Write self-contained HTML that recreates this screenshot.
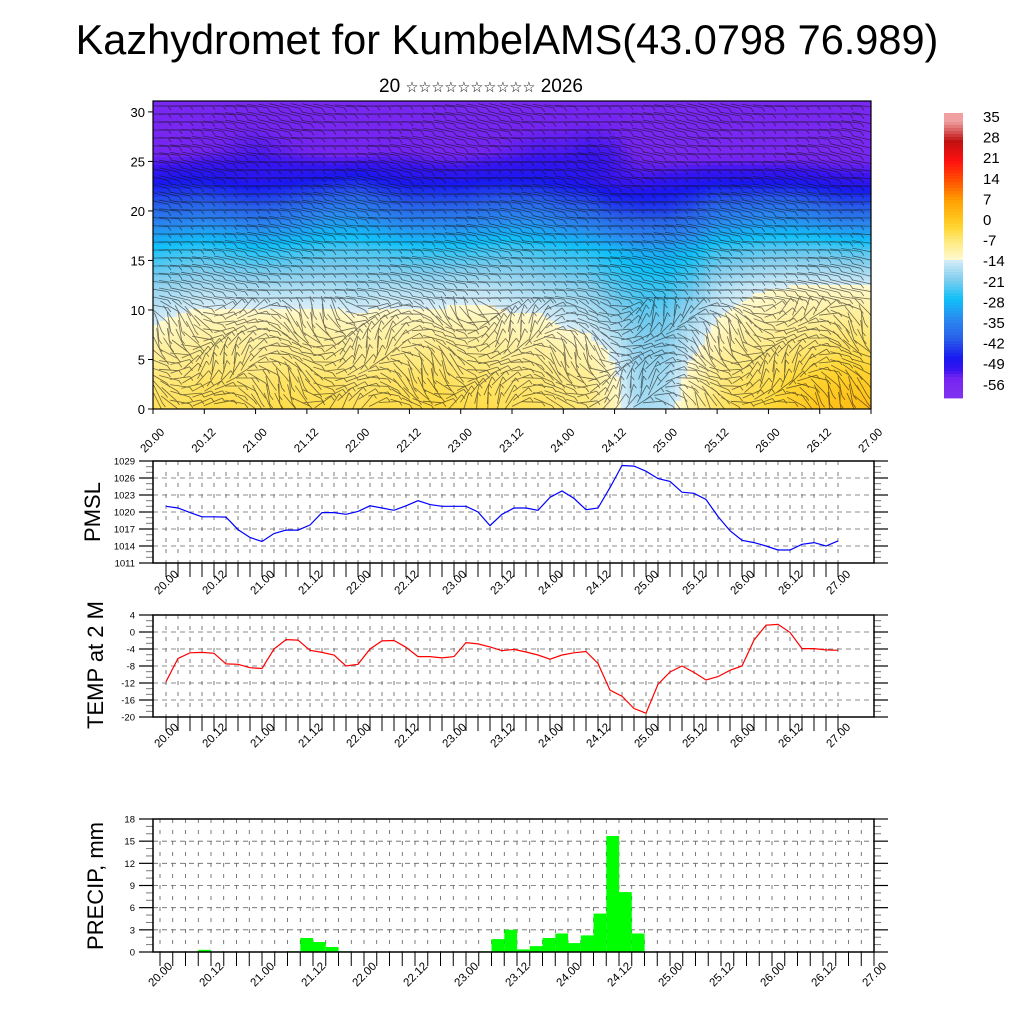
<!DOCTYPE html>
<html><head><meta charset="utf-8"><style>
html,body{margin:0;padding:0;background:#fff;}
svg{display:block;font-family:"Liberation Sans",sans-serif;}
</style></head><body>
<svg id="chart" width="1024" height="1024" viewBox="0 0 1024 1024">
<defs><clipPath id="hclip"><rect x="153" y="101" width="718" height="308"/></clipPath></defs>
<text x="507" y="54" font-size="41.5" text-anchor="middle">Kazhydromet for KumbelAMS(43.0798 76.989)</text>
<text x="481" y="92" font-size="19" text-anchor="middle">20 <tspan font-size="14.5">☆☆☆☆☆☆☆☆☆☆</tspan> 2026</text>
<g id="heat"></g>
<g id="barbs" clip-path="url(#hclip)"></g>
<g id="axes"></g>
<g id="cbar"></g>
<text transform="translate(100,512) rotate(-90)" font-size="22" text-anchor="middle">PMSL</text>
<text transform="translate(103,665) rotate(-90)" font-size="22" text-anchor="middle">TEMP at 2 M</text>
<text transform="translate(103,886) rotate(-90)" font-size="22" text-anchor="middle">PRECIP, mm</text>
</svg>
<script>
const NS="http://www.w3.org/2000/svg";
// ---- data ----
const xLabels=["20.00","20.12","21.00","21.12","22.00","22.12","23.00","23.12","24.00","24.12","25.00","25.12","26.00","26.12","27.00"];
const heightLevels=[0,3,6,9,12,16,20,23,26,31];
const tempGrid=[
[-5,-5,-4,-4,-5,-4,-4,-4,-5,-4,-4,-3,-4,-4,-5,-5,-6,-7,-12,-18,-17,-10,-6,-4,-3,-1,1,2,2],
[-7,-7,-6,-6,-7,-6,-6,-6,-7,-6,-6,-5,-6,-6,-7,-7,-8,-9,-13,-19,-18,-12,-8,-6,-5,-3,-2,-1,-1],
[-10,-10,-9,-9,-10,-9,-9,-9,-10,-9,-9,-8,-9,-9,-10,-10,-11,-12,-15,-20,-20,-15,-11,-9,-8,-7,-6,-5,-5],
[-15,-13,-12,-12,-12,-12,-12,-12,-13,-12,-12,-12,-12,-12,-13,-13,-15,-16,-19,-22,-22,-18,-14,-12,-11,-10,-10,-9,-9],
[-19,-18,-17,-17,-17,-17,-17,-17,-18,-17,-17,-17,-16,-16,-17,-18,-19,-20,-23,-25,-25,-22,-17,-15,-14,-13,-13,-13,-13],
[-27,-26,-25,-26,-27,-26,-25,-24,-24,-25,-26,-26,-26,-25,-24,-25,-26,-27,-29,-31,-31,-29,-25,-24,-23,-23,-23,-24,-24],
[-40,-40,-39,-40,-41,-40,-38,-36,-36,-38,-40,-40,-40,-39,-38,-38,-40,-41,-44,-45,-45,-43,-39,-38,-37,-37,-39,-41,-41],
[-50,-49,-49,-50,-51,-50,-49,-48,-47,-49,-50,-50,-50,-49,-49,-49,-50,-51,-53,-53,-52,-51,-50,-50,-50,-50,-51,-52,-52],
[-57,-57,-56,-55,-54,-55,-56,-57,-57,-56,-56,-57,-57,-56,-55,-54,-54,-53,-54,-57,-58,-58,-58,-58,-58,-58,-58,-58,-58],
[-58,-58,-58,-58,-58,-58,-58,-58,-58,-58,-58,-58,-58,-58,-58,-58,-58,-58,-58,-58,-58,-58,-58,-58,-58,-58,-58,-58,-58]
];
const cbarLabels=[35,28,21,14,7,0,-7,-14,-21,-28,-35,-42,-49,-56];
const pmslValues=[1021.0,1020.7,1019.9,1019.15,1019.15,1019.1,1016.9,1015.5,1014.8,1016.2,1016.8,1016.8,1017.7,1019.9,1019.9,1019.6,1020.1,1021.1,1020.7,1020.3,1021.1,1022.0,1021.3,1021.0,1021.0,1021.0,1020.0,1017.6,1019.6,1020.7,1020.7,1020.3,1022.6,1023.7,1022.4,1020.4,1020.7,1024.3,1028.2,1028.1,1027.2,1025.9,1025.4,1023.5,1023.3,1022.2,1019.2,1016.7,1015.0,1014.6,1014.0,1013.3,1013.3,1014.3,1014.6,1014.0,1014.9];
const pmslTicks=[1011,1014,1017,1020,1023,1026,1029];
const t2mValues=[-11.7,-6.2,-4.9,-4.8,-5.0,-7.5,-7.6,-8.4,-8.6,-4.0,-1.8,-1.9,-4.3,-4.8,-5.4,-8.0,-7.6,-4.0,-2.1,-2.0,-3.6,-5.8,-5.8,-6.1,-5.8,-2.5,-2.8,-3.5,-4.4,-4.1,-4.7,-5.4,-6.4,-5.4,-4.9,-4.6,-7.4,-13.7,-15.1,-18.0,-19.1,-12.3,-9.4,-8.0,-9.5,-11.3,-10.5,-9.0,-8.0,-1.9,1.6,1.8,-0.1,-3.9,-3.9,-4.2,-4.3];
const t2mTicks=[-20,-16,-12,-8,-4,0,4];
const precipValues=[0,0,0,0.05,0.3,0.05,0,0,0,0,0,0.1,1.9,1.35,0.68,0.1,0,0,0,0.05,0.05,0.05,0.05,0,0,0.03,0.1,1.75,3.0,0.35,0.8,1.9,2.5,1.2,2.25,5.2,15.7,8.1,2.5,0.05,0,0,0,0,0,0,0,0,0,0,0,0,0,0,0,0,0];
const precipTicks=[0,3,6,9,12,15,18];

function el(tag,attrs,parent){const e=document.createElementNS(NS,tag);for(const k in attrs)e.setAttribute(k,attrs[k]);(parent||document.getElementById('axes')).appendChild(e);return e;}

// ---- colour scale ----
const stops=[[-62,[128,48,240]],[-56,[116,36,240]],[-53,[56,20,240]],[-49,[24,24,240]],[-42,[40,96,232]],[-35,[42,138,240]],[-28,[16,192,248]],[-21,[128,205,238]],[-14.01,[216,238,248]],[-14,[255,250,208]],[-7,[255,232,120]],[-3,[255,216,56]],[0,[255,200,32]],[7,[255,160,0]],[14,[255,80,0]],[21,[255,16,16]],[28,[192,16,16]],[35,[240,160,160]]];
function colorOf(t){
  if(t<=stops[0][0])return 'rgb('+stops[0][1]+')';
  for(let i=1;i<stops.length;i++){if(t<=stops[i][0]){const a=stops[i-1],b=stops[i];const f=(t-a[0])/(b[0]-a[0]);return 'rgb('+a[1].map((v,j)=>Math.round(v+(b[1][j]-v)*f)).join(',')+')';}}
  return 'rgb('+stops[stops.length-1][1]+')';
}

// ---- top panel ----
const HX0=153,HX1=871,HY0=101,HY1=409,HMAX=31.1;
const hy=h=>HY1-(HY1-HY0)*h/HMAX;
function sample(ci,h){
  const nc=tempGrid[0].length;ci=Math.max(0,Math.min(nc-1,ci));
  const c0=Math.min(nc-2,Math.floor(ci)),fc=ci-c0;
  let r0=0;while(r0<heightLevels.length-2&&h>heightLevels[r0+1])r0++;
  const fr=Math.max(0,Math.min(1,(h-heightLevels[r0])/(heightLevels[r0+1]-heightLevels[r0])));
  const g=tempGrid;
  const a=g[r0][c0]*(1-fc)+g[r0][c0+1]*fc,b=g[r0+1][c0]*(1-fc)+g[r0+1][c0+1]*fc;
  return a*(1-fr)+b*fr;
}
const heat=document.getElementById('heat');
const CW=6,CH=4;
for(let x=HX0;x<HX1;x+=CW){for(let y=HY0;y<HY1;y+=CH){
  const ci=(x+CW/2-HX0)/(HX1-HX0)*(tempGrid[0].length-1);
  const h=(HY1-(y+CH/2))/(HY1-HY0)*HMAX;
  const r=el('rect',{x:x,y:y,width:Math.min(CW,HX1-x)+0.3,height:Math.min(CH,HY1-y)+0.3,fill:colorOf(sample(ci,h))},heat);
  
  
}}
// wind barbs (decorative texture)
const barbs=document.getElementById('barbs');
barbs.setAttribute('stroke','#111');barbs.setAttribute('stroke-width','0.8');barbs.setAttribute('opacity','0.6');
for(let y=HY0+5;y<HY1;y+=8){for(let x=HX0+5;x<HX1;x+=11){
  const upper=y<300;
  let ang=upper?(8*Math.sin(x*0.03+y*0.05)+6):(55*Math.sin(x*0.045+y*0.02)+35*Math.cos(y*0.09+x*0.01));
  const a=ang*Math.PI/180,L=10;
  el('line',{x1:(x-L*Math.cos(a)).toFixed(1),y1:(y-L*Math.sin(a)).toFixed(1),x2:(x+L*Math.cos(a)).toFixed(1),y2:(y+L*Math.sin(a)).toFixed(1)},barbs);
  el('line',{x1:(x+L*Math.cos(a)).toFixed(1),y1:(y+L*Math.sin(a)).toFixed(1),x2:(x+L*Math.cos(a)+3).toFixed(1),y2:(y+L*Math.sin(a)+4).toFixed(1)},barbs);
}}
el('rect',{x:HX0,y:HY0,width:HX1-HX0,height:HY1-HY0,fill:'none',stroke:'#000','stroke-width':1.2,});
for(let v=0;v<=30;v+=5){
  el('line',{x1:HX0-5,y1:hy(v),x2:HX0,y2:hy(v),stroke:'#000'});
  const t=el('text',{x:HX0-8,y:hy(v)+5,'font-size':13,'text-anchor':'end'});t.textContent=v;
  
}
xLabels.forEach((lab,i)=>{
  const x=HX0+(HX1-HX0)*i/14;
  el('line',{x1:x,y1:HY1,x2:x,y2:HY1+5,stroke:'#000'});
  const t=el('text',{x:0,y:0,'font-size':11.5,'text-anchor':'middle',transform:`translate(${x+2},${443}) rotate(-45)`});t.textContent=lab;
  
});

// ---- colorbar ----
const cb=document.getElementById('cbar');
const CBX=944,CBW=19,CBT=113,CBB=398;
for(let i=0;i<95;i++){
  const y=CBT+(CBB-CBT)*i/95;
  const v=38-(38+63)*(i+0.5)/95;
  const r=el('rect',{x:CBX,y:y,width:CBW,height:(CBB-CBT)/95+0.4,fill:colorOf(v)},cb);
  
}
cbarLabels.forEach((v,i)=>{
  const t=el('text',{x:983,y:122+i*20.6,'font-size':15},cb);t.textContent=v;
  
});

// ---- line/bar panels ----
function panel(cfg){
  const {x0,x1,y0,y1,vmin,vmax,ticks,tx0,tx1,labY,name}=cfg;
  const g=el('g',{});
  const sx=i=>tx0+(tx1-tx0)*i/56;
  const sy=v=>y1-(y1-y0)*(v-vmin)/(vmax-vmin);
  for(let i=0;i<=56;i++){const x=sx(i);if(x<=x0||x>=x1)continue;el('line',{x1:x,y1:y0,x2:x,y2:y1,stroke:'#444','stroke-width':0.7,'stroke-dasharray':'4,7'},g);}
  ticks.forEach(v=>{if(v===vmin||v===vmax)return;el('line',{x1:x0,y1:sy(v),x2:x1,y2:sy(v),stroke:'#666','stroke-width':0.8,'stroke-dasharray':'5,4'},g);});
  for(let i=0;i<=56;i++){const x=sx(i);el('line',{x1:x,y1:y1,x2:x,y2:y1+14,stroke:'#000','stroke-width':1},g);}
  const step=(ticks[1]-ticks[0])/3;
  for(let v=vmin;v<=vmax+1e-6;v+=step){const q=((v-vmin)/(ticks[1]-ticks[0]))%1;const maj=Math.abs(q)<1e-3||Math.abs(q-1)<1e-3;const L=maj?14:7;
    el('line',{x1:x0-L,y1:sy(v),x2:x0,y2:sy(v),stroke:maj?'#000':'#777','stroke-width':maj?1.2:1},g);
    el('line',{x1:x1,y1:sy(v),x2:x1+L,y2:sy(v),stroke:maj?'#000':'#777','stroke-width':maj?1.2:1},g);}
  ticks.forEach(v=>{const t=el('text',{x:x0-18,y:sy(v)+3.5,'font-size':9.5,'text-anchor':'end'},g);t.textContent=v;
    });
  xLabels.forEach((lab,k)=>{const x=sx(k*4);const t=el('text',{x:0,y:0,'font-size':11.5,'text-anchor':'middle',transform:`translate(${x+3},${labY}) rotate(-45)`},g);t.textContent=lab;
    });
  return {g,sx,sy};
}
(function(){
  const p=panel({x0:153,x1:874,y0:461,y1:563,vmin:1011,vmax:1029,ticks:pmslTicks,tx0:166,tx1:838,labY:585,name:'pmsl'});
  const pl=el('polyline',{points:pmslValues.map((v,i)=>p.sx(i).toFixed(1)+','+p.sy(v).toFixed(1)).join(' '),fill:'none',stroke:'#0000ff','stroke-width':1.2},p.g);
  
  el('rect',{x:153,y:461,width:721,height:102,fill:'none',stroke:'#000','stroke-width':1.5},p.g);
})();
(function(){
  const p=panel({x0:153,x1:874,y0:615,y1:717,vmin:-20,vmax:4,ticks:t2mTicks,tx0:166,tx1:838,labY:738,name:'temp'});
  const pl=el('polyline',{points:t2mValues.map((v,i)=>p.sx(i).toFixed(1)+','+p.sy(v).toFixed(1)).join(' '),fill:'none',stroke:'#ff0000','stroke-width':1.2},p.g);
  
  el('rect',{x:153,y:615,width:721,height:102,fill:'none',stroke:'#000','stroke-width':1.5},p.g);
})();
(function(){
  const p=panel({x0:153,x1:874,y0:819,y1:952,vmin:0,vmax:18,ticks:precipTicks,tx0:160,tx1:874,labY:977,name:'precip'});
  const w=p.sx(1)-p.sx(0);
  precipValues.forEach((v,i)=>{if(v<=0)return;const y=p.sy(v);
    const r=el('rect',{x:(p.sx(i)-w).toFixed(1),y:y.toFixed(1),width:w.toFixed(1),height:(952-y).toFixed(1),fill:'#00ff00'},p.g);
    });
  el('rect',{x:153,y:819,width:721,height:133,fill:'none',stroke:'#000','stroke-width':1.5},p.g);
})();
</script>
</body></html>
